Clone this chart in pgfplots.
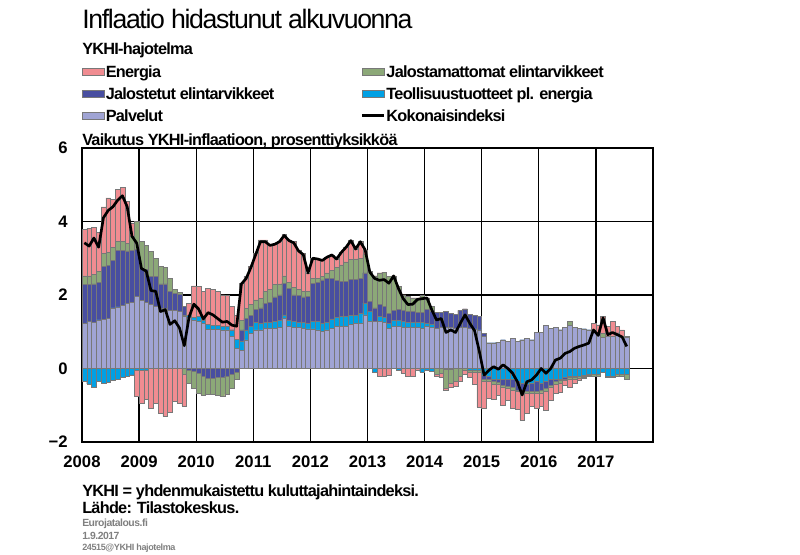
\documentclass[border=0pt]{standalone}
\usepackage{pgfplots}
\pgfplotsset{compat=1.18}
\usepackage{pgfplotstable}
\usepackage{fontspec}
\setmainfont{Liberation Sans}
\newfontfamily\tightfont[LetterSpace=-4.5]{Liberation Sans}
\newfontfamily\titlefont[LetterSpace=-5.0]{Liberation Sans}
\definecolor{cE}{RGB}{240,140,145}
\definecolor{cG}{RGB}{140,168,120}
\definecolor{cJ}{RGB}{72,78,160}
\definecolor{cT}{RGB}{0,160,228}
\definecolor{cP}{RGB}{160,164,212}
\definecolor{barline}{RGB}{120,120,120}
\definecolor{foot}{RGB}{128,128,128}

% m = month index from Jan 2008; P,T,J,G,E = upper edges of the positive stack
% nT,nJ,nG,nE = lower edges of the negative stack; L = total index
\pgfplotstableread{
m P T J G E nT nJ nG nE L
0 1.22 1.22 2.28 2.52 3.78 -0.36 -0.36 -0.36 -0.36 3.42
1 1.28 1.28 2.28 2.52 3.82 -0.42 -0.42 -0.42 -0.42 3.33
2 1.25 1.25 2.30 2.56 3.84 -0.50 -0.50 -0.50 -0.50 3.55
3 1.32 1.32 2.35 2.65 3.70 -0.36 -0.36 -0.36 -0.36 3.30
4 1.34 1.34 2.77 3.14 4.40 -0.40 -0.40 -0.40 -0.40 4.10
5 1.36 1.36 2.80 3.15 4.64 -0.38 -0.38 -0.38 -0.38 4.30
6 1.65 1.65 2.95 3.30 4.60 -0.32 -0.32 -0.32 -0.32 4.40
7 1.68 1.68 3.22 3.45 4.88 -0.28 -0.28 -0.28 -0.28 4.58
8 1.72 1.72 3.22 3.45 4.92 -0.25 -0.25 -0.25 -0.25 4.70
9 1.78 1.78 3.20 3.40 4.55 -0.20 -0.20 -0.20 -0.20 4.40
10 1.80 1.80 3.22 3.60 3.96 -0.17 -0.17 -0.17 -0.17 3.60
11 1.96 1.96 3.25 4.00 4.00 -0.05 -0.05 -0.05 -0.75 3.41
12 1.85 1.85 2.72 3.45 3.45 -0.05 -0.05 -0.05 -0.94 2.72
13 1.80 1.80 2.70 3.36 3.36 -0.05 -0.05 -0.05 -0.85 2.65
14 1.75 1.75 2.50 3.18 3.18 0 0 0 -1.08 2.12
15 1.70 1.70 2.50 3.00 3.00 0 0 0 -0.95 2.10
16 1.64 1.64 2.30 2.77 2.77 0 0 0 -1.22 1.55
17 1.64 1.64 2.30 2.75 2.75 0 0 0 -1.30 1.60
18 1.58 1.58 2.10 2.45 2.45 0 0 0 -1.18 1.20
19 1.58 1.58 2.05 2.15 2.15 0 0 0 -0.90 1.30
20 1.55 1.55 2.02 2.08 2.08 0 0 0 -0.95 1.10
21 1.42 1.45 1.70 1.70 1.70 0 0 -0.15 -1.02 0.62
22 1.40 1.45 1.45 1.45 1.78 0 -0.05 -0.40 -0.40 1.40
23 1.32 1.40 1.40 1.40 2.25 0 -0.08 -0.55 -0.55 1.75
24 1.28 1.42 1.42 1.42 2.23 0 -0.12 -0.67 -0.67 1.62
25 1.22 1.32 1.32 1.32 2.10 0 -0.20 -0.72 -0.72 1.35
26 1.07 1.20 1.20 1.20 2.19 0 -0.26 -0.70 -0.70 1.52
27 1.07 1.18 1.18 1.18 2.16 0 -0.26 -0.70 -0.70 1.46
28 1.07 1.18 1.18 1.18 2.10 0 -0.25 -0.72 -0.72 1.36
29 1.05 1.15 1.15 1.15 2.00 0 -0.23 -0.76 -0.76 1.26
30 1.05 1.15 1.15 1.15 1.98 0 -0.20 -0.70 -0.70 1.28
31 0.87 1.05 1.05 1.05 1.69 0 -0.15 -0.55 -0.55 1.18
32 0.55 0.80 0.80 0.80 1.45 0 -0.10 -0.30 -0.30 1.15
33 0.50 0.75 1.05 1.30 2.32 0 0 0 0 2.30
34 0.78 1.05 1.37 1.64 2.50 0 0 0 0 2.45
35 0.96 1.15 1.45 1.75 2.78 0 0 0 0 2.75
36 1.05 1.25 1.60 1.87 3.14 0 0 0 0 3.10
37 1.05 1.22 1.65 1.90 3.50 0 0 0 0 3.45
38 1.10 1.25 1.78 2.10 3.50 0 0 0 0 3.45
39 1.10 1.25 1.80 2.15 3.36 0 0 0 0 3.35
40 1.10 1.28 1.95 2.28 3.38 0 0 0 0 3.38
41 1.12 1.30 2.00 2.30 3.45 0 0 0 0 3.45
42 1.37 1.46 2.32 2.52 3.64 0 0 0 0 3.62
43 1.15 1.30 2.18 2.35 3.50 0 0 0 0 3.48
44 1.12 1.28 2.00 2.20 3.45 0 0 0 0 3.42
45 1.12 1.25 1.98 2.15 3.23 0 0 0 0 3.20
46 1.10 1.25 1.95 2.10 3.14 0 0 0 0 3.10
47 1.08 1.22 1.96 2.10 2.60 0 0 0 0 2.60
48 1.08 1.28 2.32 2.46 3.00 0 0 0 0 3.00
49 1.05 1.28 2.35 2.46 2.98 0 0 0 0 2.98
50 1.02 1.22 2.41 2.50 2.94 0 0 0 0 2.94
51 1.05 1.25 2.45 2.60 3.03 0 0 0 0 3.03
52 1.10 1.35 2.46 2.68 3.09 0 0 0 0 3.09
53 1.15 1.40 2.40 2.75 2.98 0 0 0 0 2.98
54 1.15 1.42 2.38 2.82 3.16 0 0 0 0 3.16
55 1.15 1.42 2.38 2.90 3.30 0 0 0 0 3.30
56 1.20 1.45 2.42 2.96 3.48 0 0 0 0 3.48
57 1.22 1.45 2.42 2.98 3.25 0 0 0 0 3.25
58 1.22 1.50 2.45 3.00 3.45 0 0 0 0 3.45
59 1.46 1.78 2.60 3.10 3.23 0 0 0 0 3.23
60 1.28 1.55 1.82 2.64 2.64 0 0 0 0 2.62
61 1.28 1.28 1.65 2.52 2.52 -0.10 -0.10 -0.10 -0.10 2.45
62 1.28 1.42 1.75 2.60 2.60 0 0 0 -0.22 2.40
63 1.25 1.40 1.70 2.62 2.62 0 0 0 -0.20 2.42
64 1.10 1.23 1.50 2.50 2.50 0 0 0 -0.18 2.32
65 1.15 1.30 1.58 2.52 2.52 0 0 0 0 2.52
66 1.15 1.30 1.60 2.23 2.23 -0.05 -0.05 -0.05 -0.05 2.18
67 1.12 1.28 1.58 2.00 2.00 0 0 0 -0.12 1.90
68 1.12 1.25 1.55 1.96 1.96 0 0 0 -0.22 1.74
69 1.12 1.25 1.55 1.92 1.92 0 0 0 -0.20 1.75
70 1.12 1.25 1.52 1.92 1.92 0 0 0 -0.05 1.88
71 1.10 1.25 1.52 1.98 1.98 -0.10 -0.10 -0.10 -0.10 1.90
72 1.14 1.23 1.60 1.92 1.92 -0.05 -0.05 -0.05 -0.05 1.92
73 1.12 1.20 1.55 1.70 1.70 -0.08 -0.08 -0.08 -0.08 1.60
74 1.10 1.10 1.52 1.52 1.52 0 0 -0.15 -0.22 1.32
75 1.12 1.12 1.52 1.52 1.52 0 0 -0.12 -0.25 1.36
76 1.12 1.12 1.55 1.55 1.55 -0.02 -0.02 -0.55 -0.58 0.98
77 1.12 1.12 1.50 1.50 1.50 -0.02 -0.02 -0.40 -0.50 1.05
78 1.10 1.10 1.48 1.48 1.48 0 0 -0.35 -0.48 0.98
79 1.12 1.12 1.58 1.58 1.58 0 0 -0.20 -0.35 1.23
80 1.12 1.12 1.62 1.62 1.62 0 0 -0.05 -0.15 1.46
81 1.10 1.10 1.48 1.48 1.48 -0.05 -0.05 -0.10 -0.25 1.23
82 1.08 1.08 1.45 1.45 1.45 -0.05 -0.05 -0.10 -0.42 1.03
83 1.05 1.05 1.42 1.42 1.42 -0.05 -0.05 -0.10 -1.05 0.47
84 0.88 0.88 0.95 0.95 0.95 -0.18 -0.30 -0.35 -1.08 -0.18
85 0.70 0.70 0.70 0.70 0.70 -0.20 -0.30 -0.35 -0.80 -0.05
86 0.70 0.70 0.70 0.70 0.70 -0.28 -0.36 -0.42 -0.85 0.05
87 0.72 0.72 0.72 0.72 0.72 -0.28 -0.38 -0.44 -0.72 -0.02
88 0.78 0.78 0.78 0.78 0.78 -0.30 -0.45 -0.50 -0.99 0.10
89 0.74 0.74 0.74 0.74 0.74 -0.30 -0.48 -0.55 -0.86 0.00
90 0.82 0.82 0.82 0.82 0.82 -0.30 -0.52 -0.58 -1.08 -0.13
91 0.74 0.74 0.74 0.74 0.74 -0.36 -0.58 -0.63 -1.12 -0.36
92 0.78 0.78 0.78 0.78 0.78 -0.40 -0.60 -0.66 -1.40 -0.72
93 0.82 0.82 0.82 0.82 0.82 -0.42 -0.63 -0.68 -1.22 -0.36
94 0.78 0.78 0.78 0.78 0.78 -0.40 -0.63 -0.68 -1.04 -0.31
95 0.98 0.98 0.98 0.98 0.98 -0.36 -0.63 -0.68 -1.08 -0.18
96 0.98 0.98 0.98 0.98 0.98 -0.40 -0.60 -0.66 -1.04 0.00
97 1.18 1.18 1.18 1.18 1.18 -0.36 -0.55 -0.62 -1.13 -0.13
98 1.09 1.09 1.09 1.09 1.09 -0.30 -0.45 -0.52 -0.86 0.00
99 1.12 1.12 1.12 1.12 1.12 -0.30 -0.36 -0.42 -0.68 0.23
100 1.05 1.05 1.05 1.05 1.05 -0.28 -0.32 -0.40 -0.64 0.28
101 1.12 1.12 1.12 1.12 1.12 -0.25 -0.28 -0.33 -0.45 0.41
102 1.18 1.18 1.18 1.28 1.28 -0.22 -0.25 -0.30 -0.50 0.46
103 1.12 1.12 1.12 1.12 1.12 -0.22 -0.25 -0.28 -0.40 0.55
104 1.10 1.10 1.10 1.10 1.10 -0.20 -0.22 -0.26 -0.31 0.60
105 1.08 1.08 1.08 1.08 1.08 -0.18 -0.20 -0.24 -0.27 0.64
106 1.05 1.05 1.05 1.05 1.05 -0.15 -0.17 -0.20 -0.20 0.69
107 1.00 1.00 1.02 1.05 1.23 -0.15 -0.15 -0.20 -0.20 1.05
108 0.92 0.92 0.92 0.92 1.19 -0.15 -0.15 -0.22 -0.22 0.90
109 0.85 0.85 0.85 0.95 1.41 -0.10 -0.10 -0.10 -0.10 1.38
110 0.88 0.88 0.88 0.88 1.14 -0.20 -0.20 -0.25 -0.25 0.92
111 0.88 0.88 0.88 0.88 1.28 -0.20 -0.20 -0.25 -0.25 0.98
112 0.90 0.90 0.97 0.97 1.14 -0.15 -0.15 -0.20 -0.20 0.92
113 0.88 0.88 0.88 0.88 1.05 -0.15 -0.15 -0.20 -0.20 0.86
114 0.85 0.85 0.85 0.85 0.87 -0.15 -0.15 -0.28 -0.28 0.60
}\datatable

\pgfplotsset{
  mybar/.style={ybar, bar width=0.083333, bar shift=0pt, draw=barline, line width=0.35pt, fill=#1},
  barleg/.style={legend image code/.code={\draw[##1] (0pt,-3.4pt) rectangle (16.5pt,1.8pt);}},
  lineleg/.style={legend image code/.code={\draw[##1] (0pt,-0.8pt) -- (16.5pt,-0.8pt);}},
}
\newcommand{\lgent}[1]{\makebox[190pt][l]{\rule[-3.6pt]{0pt}{16.1pt}#1}}
\newcommand{\txt}{\tightfont\fontsize{12.2}{14}\selectfont\bfseries}

\begin{document}
\begin{tikzpicture}[x=1pt,y=1pt]
\path[use as bounding box] (0,0) rectangle (600,416.25);
\begin{axis}[
  at={(61.5pt,84.75pt)}, anchor=south west,
  scale only axis, width=428.25pt, height=220.5pt,
  xmin=2008, xmax=2018, ymin=-2, ymax=6,
  xtick={2008,2009,2010,2011,2012,2013,2014,2015,2016,2017},
  xticklabels={2008,2009,2010,2011,2012,2013,2014,2015,2016,2017},
  ytick={-2,0,2,4,6}, yticklabels={−2,0,2,4,6},
  /pgf/number format/assume math mode=true,
  grid=major, major grid style={black, line width=0.9pt},
  axis line style={black, line width=1.5pt},
  major tick length=0pt,
  ticklabel style={font=\fontsize{12.5}{14}\selectfont\bfseries, inner sep=0pt},
  xticklabel style={anchor=north}, xticklabel shift=10.5pt,
  yticklabel style={anchor=east}, yticklabel shift=10.5pt,
  legend columns=2,
  legend cell align=left,
  legend style={at={(0,1.2963)}, anchor=north west, draw=none, fill=none,
    inner sep=0pt, outer sep=0pt, row sep=2.6pt, column sep=1pt,
    nodes={inner sep=0pt},
    font=\txt},
]
\addplot[mybar=cE, barleg] table[x expr=2008+(\thisrow{m}+0.5)/12, y=E] {\datatable};
\addlegendentry{\lgent{Energia}}
\addplot[mybar=cG, barleg] table[x expr=2008+(\thisrow{m}+0.5)/12, y=G] {\datatable};
\addlegendentry{\lgent{Jalostamattomat elintarvikkeet}}
\addplot[mybar=cJ, barleg] table[x expr=2008+(\thisrow{m}+0.5)/12, y=J] {\datatable};
\addlegendentry{\lgent{Jalostetut elintarvikkeet}}
\addplot[mybar=cT, barleg] table[x expr=2008+(\thisrow{m}+0.5)/12, y=T] {\datatable};
\addlegendentry{\lgent{Teollisuustuotteet pl. energia}}
\addplot[mybar=cP, barleg] table[x expr=2008+(\thisrow{m}+0.5)/12, y=P] {\datatable};
\addlegendentry{\lgent{Palvelut}}
\addplot[mybar=cE, forget plot] table[x expr=2008+(\thisrow{m}+0.5)/12, y=nE] {\datatable};
\addplot[mybar=cG, forget plot] table[x expr=2008+(\thisrow{m}+0.5)/12, y=nG] {\datatable};
\addplot[mybar=cJ, forget plot] table[x expr=2008+(\thisrow{m}+0.5)/12, y=nJ] {\datatable};
\addplot[mybar=cT, forget plot] table[x expr=2008+(\thisrow{m}+0.5)/12, y=nT] {\datatable};
\addplot[black, line width=2pt, line join=round, no marks, lineleg]
  table[x expr=2008+(\thisrow{m}+0.5)/12, y=L] {\datatable};
\addlegendentry{\lgent{Kokonaisindeksi}}
\end{axis}
\node[anchor=base west, inner sep=0pt] at (61.5,394.5) {\titlefont\fontsize{20}{22}\selectfont Inflaatio hidastunut alkuvuonna};
\node[anchor=base west, inner sep=0pt] at (61.5,375) {\txt YKHI-hajotelma};
\node[anchor=base west, inner sep=0pt] at (61.5,306.9) {\txt Vaikutus YKHI-inflaatioon, prosenttiyksikköä};
\node[anchor=base west, inner sep=0pt] at (61.5,43.5) {\txt YKHI = yhdenmukaistettu kuluttajahintaindeksi.};
\node[anchor=base west, inner sep=0pt] at (61.5,30.75) {\txt Lähde: Tilastokeskus.};
\node[anchor=base west, inner sep=0pt, text=foot] at (61.5,21) {\tightfont\fontsize{7.8}{8}\selectfont\bfseries Eurojatalous.fi};
\node[anchor=base west, inner sep=0pt, text=foot] at (61.5,11.25) {\tightfont\fontsize{7.8}{8}\selectfont\bfseries 1.9.2017};
\node[anchor=base west, inner sep=0pt, text=foot] at (61.5,3.5) {\tightfont\fontsize{6.8}{7}\selectfont\bfseries 24515@YKHI hajotelma};
\end{tikzpicture}
\end{document}
